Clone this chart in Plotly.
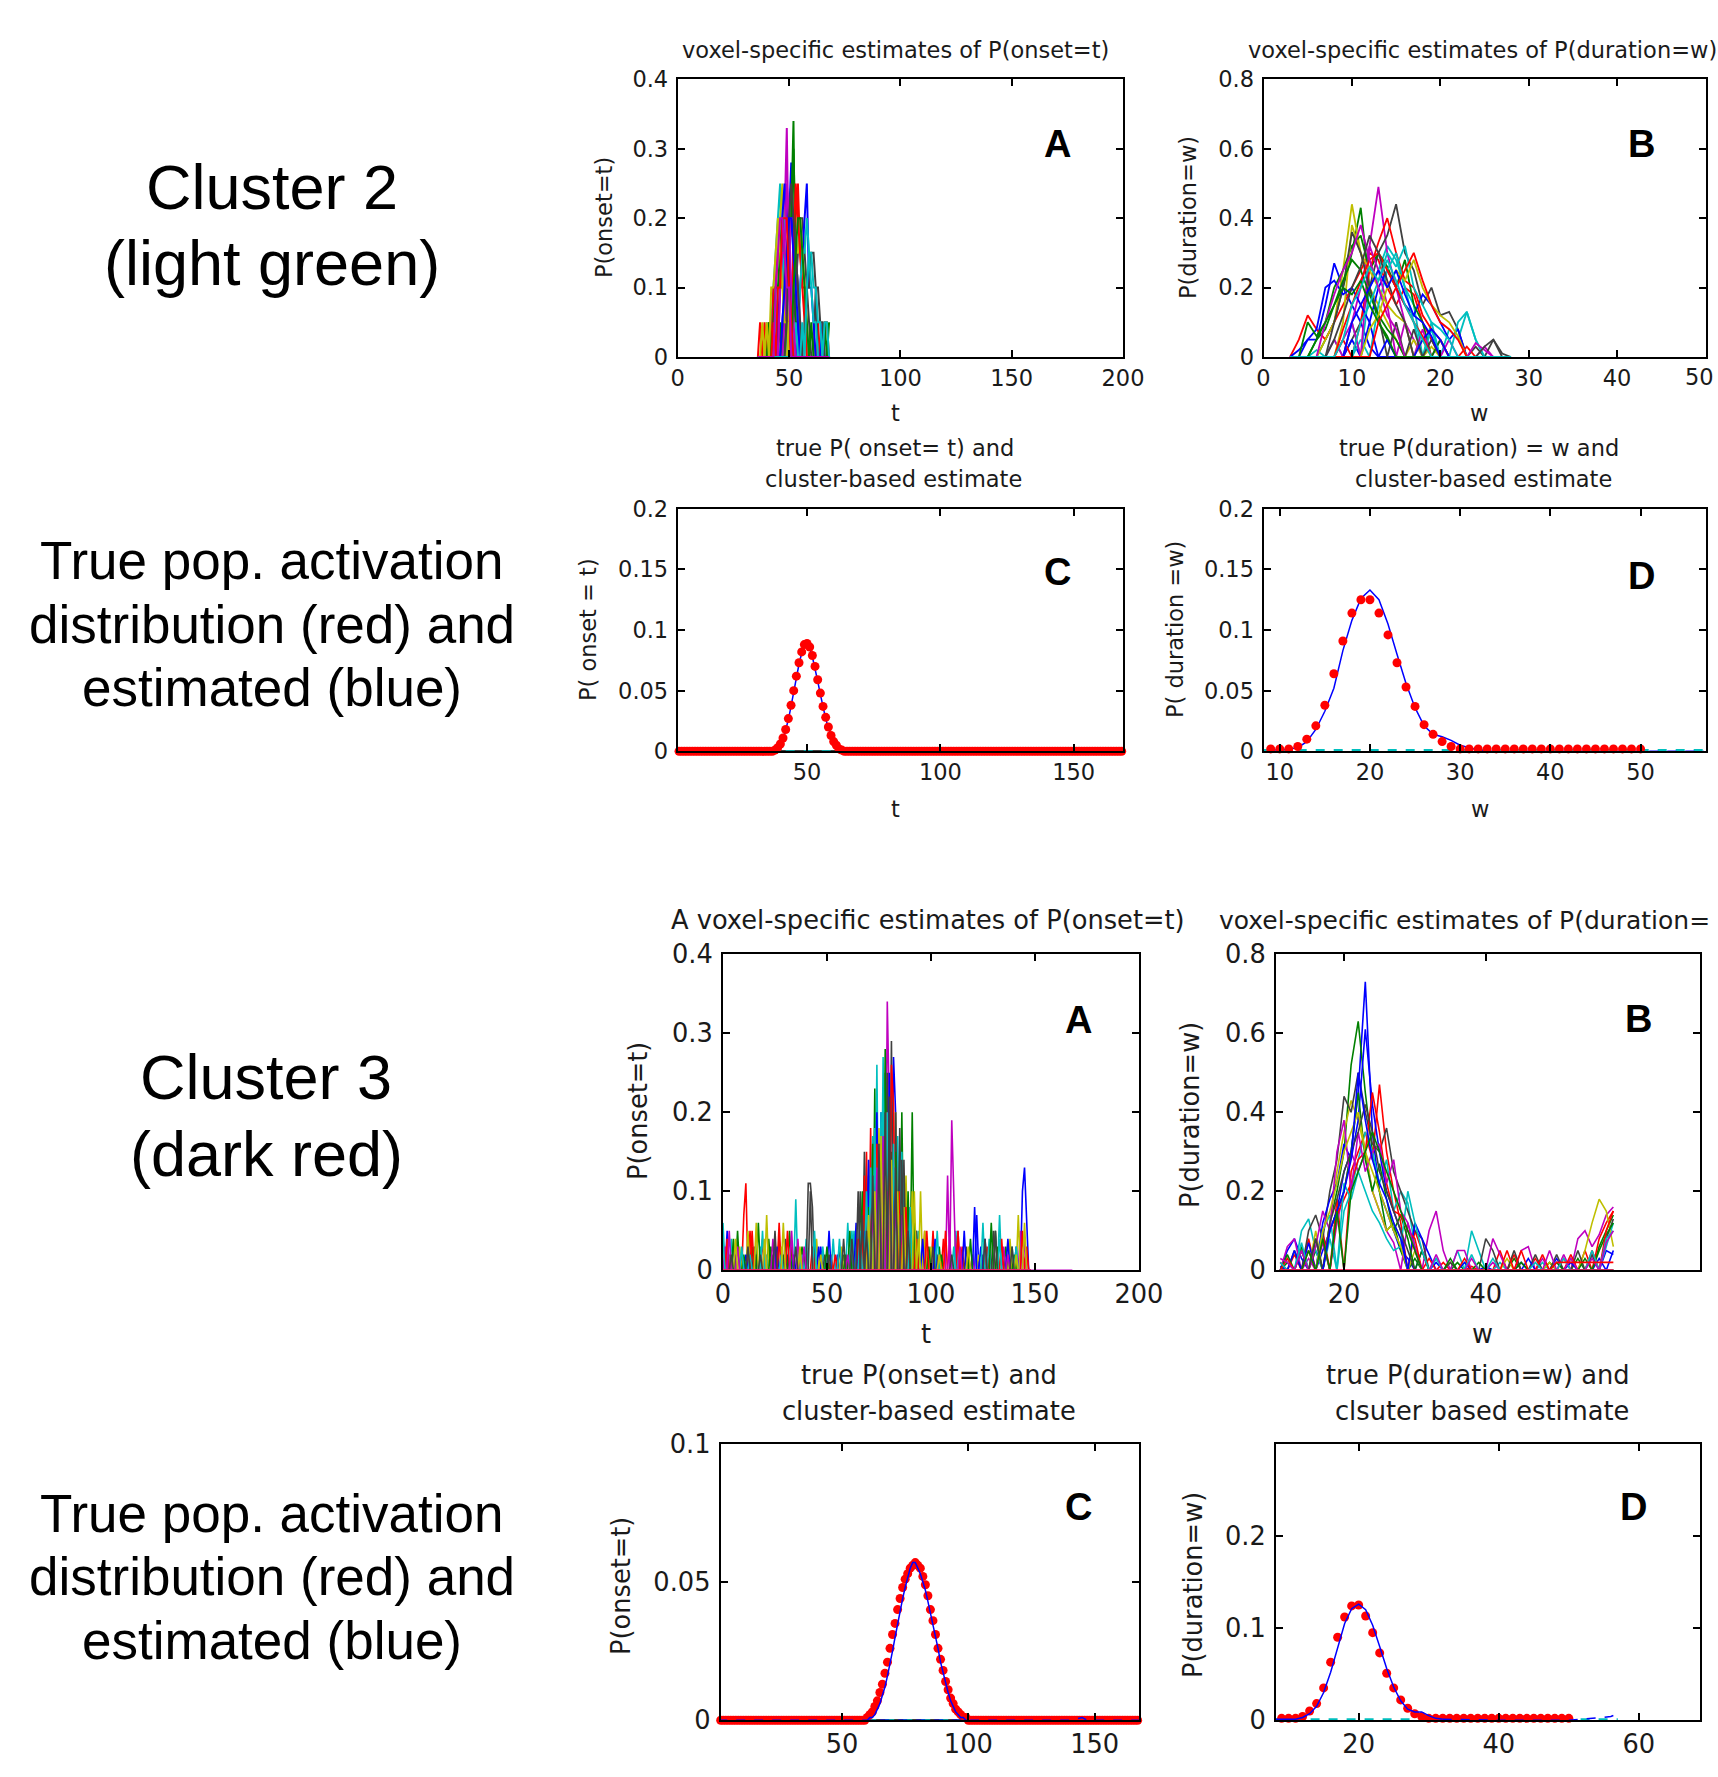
import plotly.graph_objects as go

# ======================= DATA =======================
# MATLAB default line colour order
MCOL = ["#0000ff", "#008000", "#ff0000", "#00bfbf", "#bf00bf", "#bfbf00", "#404040"]

# ---- Cluster 2, panel A: voxel-specific P(onset=t), nonzero points per voxel ----
C2_ONSET_T = list(range(36, 69))
C2_ONSET_VOXELS = [
    {47: .05, 48: .10, 49: .15, 50: .20, 51: .28, 52: .12, 53: .05, 54: .05},
    {46: .05, 48: .10, 49: .10, 50: .15, 51: .20, 52: .34, 53: .05},
    {50: .05, 51: .10, 52: .10, 53: .20, 54: .25, 55: .15, 56: .10, 57: .05, 63: .05, 66: .05, 67: .05},
    {40: .05, 42: .05, 43: .10, 44: .15, 45: .20, 46: .25, 47: .10, 48: .10},
    {44: .05, 46: .10, 47: .15, 48: .20, 49: .33, 50: .10, 51: .05},
    {43: .05, 44: .10, 45: .15, 46: .20, 47: .25, 48: .15, 49: .10},
    {52: .05, 53: .10, 54: .15, 55: .20, 56: .20, 57: .15, 58: .10, 59: .05, 62: .10},
    {54: .05, 55: .10, 56: .15, 57: .20, 58: .25, 59: .10, 60: .10, 61: .05, 65: .05},
    {49: .10, 50: .15, 51: .20, 52: .30, 53: .15, 54: .10, 66: .05, 68: .05},
    {37: .05, 39: .05, 41: .05, 43: .10, 44: .10, 45: .15, 46: .15, 47: .15, 48: .10, 49: .05, 50: .05},
    {44: .05, 45: .10, 46: .10, 47: .10, 48: .20, 49: .20, 50: .15, 51: .10},
    {48: .05, 49: .10, 50: .15, 51: .20, 52: .20, 53: .15, 54: .10, 55: .05},
    {50: .05, 51: .05, 52: .10, 53: .15, 54: .15, 55: .20, 56: .15, 57: .10, 58: .05},
    {55: .05, 57: .05, 58: .10, 59: .10, 60: .15, 61: .15, 62: .10, 63: .10, 64: .05, 65: .05},
    {45: .05, 46: .10, 47: .20, 48: .25, 49: .20, 50: .15, 51: .05},
    {41: .05, 43: .05, 44: .10, 45: .10, 46: .15, 47: .20, 48: .15, 49: .10, 50: .10},
    {51: .05, 52: .15, 53: .25, 54: .20, 55: .15, 56: .10, 57: .10},
    {53: .05, 55: .10, 56: .15, 57: .15, 58: .20, 59: .15, 60: .10, 61: .05, 62: .05},
    {46: .10, 47: .15, 48: .15, 49: .25, 50: .20, 51: .10, 52: .05},
    {38: .05, 40: .05, 42: .10, 43: .10, 44: .15, 45: .20, 46: .15, 47: .10, 48: .05, 49: .05},
    {49: .05, 50: .20, 51: .25, 52: .20, 53: .15, 54: .10, 55: .05},
    {47: .05, 48: .10, 49: .15, 50: .20, 51: .20, 52: .15, 53: .10, 54: .05},
    {52: .10, 53: .15, 54: .20, 55: .20, 56: .15, 57: .10, 58: .05, 60: .05},
    {43: .05, 45: .10, 46: .10, 47: .20, 48: .20, 49: .20, 50: .10, 51: .05},
    {56: .05, 58: .10, 59: .15, 60: .15, 61: .10, 62: .10, 63: .05, 64: .05, 66: .05, 67: .05},
    {44: .10, 45: .15, 46: .20, 47: .20, 48: .15, 49: .10, 50: .10},
]

# ---- Cluster 2, panel B: voxel-specific P(duration=w) ----
C2_DUR_W = list(range(3, 29))
C2_DUR_VOXELS = [
    {5: .05, 6: .05, 7: .15, 8: .27, 9: .20, 10: .15, 11: .10, 12: .03},
    {7: .05, 8: .10, 9: .20, 10: .30, 11: .43, 12: .20, 13: .10, 14: .05},
    {4: .05, 5: .12, 6: .08, 7: .05, 8: .10, 9: .15, 10: .20, 11: .25, 12: .30, 13: .28, 14: .20, 15: .15, 16: .20, 17: .18, 18: .10, 19: .05},
    {6: .02, 8: .05, 10: .10, 12: .20, 13: .25, 14: .32, 15: .28, 16: .20, 17: .15, 19: .10, 21: .08, 22: .05, 23: .13, 24: .05},
    {9: .05, 10: .10, 11: .20, 12: .32, 13: .49, 14: .30, 15: .20, 16: .10, 17: .05, 20: .05, 25: .03},
    {7: .05, 8: .10, 9: .25, 10: .44, 11: .30, 12: .20, 13: .15, 14: .10, 15: .05, 17: .05, 19: .03},
    {10: .05, 11: .10, 12: .20, 13: .30, 14: .35, 15: .44, 16: .30, 17: .25, 18: .15, 19: .20, 20: .12, 21: .13, 22: .08, 24: .03, 26: .05},
    {10: .05, 12: .10, 13: .20, 14: .25, 15: .20, 16: .15, 17: .12, 18: .18, 19: .15, 20: .10, 21: .05, 22: .08},
    {6: .05, 7: .10, 8: .20, 9: .25, 10: .32, 11: .35, 12: .25, 13: .30, 14: .26, 15: .20, 16: .28, 17: .15, 18: .10, 20: .05},
    {9: .05, 11: .10, 12: .25, 13: .33, 14: .40, 15: .30, 16: .22, 17: .20, 18: .12, 19: .08, 20: .05, 23: .03},
    {11: .05, 13: .15, 14: .25, 15: .30, 16: .20, 17: .10, 19: .08, 22: .10, 23: .13, 24: .05},
    {8: .05, 10: .10, 12: .32, 13: .25, 14: .15, 16: .10, 18: .08, 21: .05, 24: .04, 25: .02},
    {9: .10, 10: .38, 11: .30, 12: .25, 13: .20, 14: .15, 15: .12, 16: .10, 18: .05},
    {8: .10, 9: .20, 10: .36, 11: .30, 12: .20, 13: .12, 15: .10, 17: .08, 19: .05, 25: .03, 26: .05, 27: .01},
    {4: .02, 5: .05, 6: .08, 7: .20, 8: .22, 9: .18, 10: .20, 11: .15, 12: .10, 14: .05, 18: .05, 19: .08, 20: .05},
    {6: .05, 7: .08, 8: .15, 9: .22, 10: .28, 11: .25, 12: .18, 13: .12, 14: .08, 15: .05},
    {9: .08, 10: .15, 11: .22, 12: .28, 13: .30, 14: .25, 15: .20, 16: .15, 17: .10, 18: .06},
    {11: .10, 12: .15, 13: .22, 14: .30, 15: .26, 16: .32, 17: .20, 18: .15, 19: .10, 20: .08, 21: .05},
    {7: .10, 8: .18, 9: .25, 10: .30, 11: .38, 12: .28, 13: .20, 14: .12, 15: .08},
    {12: .08, 13: .12, 14: .20, 15: .25, 16: .22, 17: .28, 18: .20, 19: .15, 20: .12, 21: .10, 22: .06},
    {8: .05, 9: .12, 10: .20, 11: .26, 12: .35, 13: .30, 14: .22, 15: .15, 16: .10},
    {10: .10, 11: .15, 12: .20, 13: .25, 14: .20, 15: .25, 16: .18, 17: .12, 18: .10, 19: .06},
    {5: .10, 6: .06, 7: .10, 8: .15, 9: .20, 10: .18, 11: .22, 12: .15, 13: .10, 14: .06},
    {13: .10, 14: .15, 15: .20, 16: .25, 17: .30, 18: .22, 19: .15, 20: .10, 21: .08, 22: .05},
    {9: .05, 10: .15, 11: .20, 12: .26, 13: .22, 14: .28, 15: .22, 16: .15, 17: .10, 18: .05},
]

# ---- Cluster 2, panel C: true P(onset=t) (red dots) and cluster estimate (blue) ----
C2_ONSET_FULL_T = list(range(1, 170))
C2_ONSET_BUMP_T = list(range(38, 64))
C2_ONSET_TRUE = [.001, .003, .006, .011, .018, .027, .038, .050, .062, .073, .082, .088, .089,
                 .086, .079, .070, .059, .048, .037, .028, .020, .013, .008, .005, .002, .001]
C2_ONSET_EST = [.000, .002, .005, .010, .017, .026, .037, .049, .061, .072, .081, .087, .088,
                .085, .078, .069, .058, .047, .036, .027, .019, .012, .007, .004, .001, .000]
C2_ONSET_ZERO_T = [42, 62]
C2_ONSET_ZERO_P = [0, 0]

# ---- Cluster 2, panel D: true P(duration=w) and estimate ----
C2_DUR_TRUE_W = list(range(9, 51))
C2_DUR_TRUE = [.002, .002, .002, .004, .010, .021, .038, .064, .091, .114, .125, .125, .114, .096,
               .073, .053, .037, .022, .014, .008, .004, .002, .002, .002, .002, .002, .002, .002,
               .002, .002, .002, .002, .002, .002, .002, .002, .002, .002, .002, .002, .002, .002]
C2_DUR_EST_W = list(range(9, 34))
C2_DUR_EST = [.001, .001, .002, .003, .008, .018, .033, .052, .083, .108, .126, .133, .125, .105,
              .080, .056, .036, .021, .014, .012, .009, .005, .003, .001, .000]
C2_DUR_TAIL_W = [33, 45, 57]
C2_DUR_TAIL = [0.0, 0.0, 0.0]
C2_DUR_ZERO_W = [8, 58]
C2_DUR_ZERO_P = [0.001, 0.001]

# ---- Cluster 3, panel A: voxel-specific P(onset=t) ----
C3_ONSET_T = list(range(0, 149))
C3_ONSET_T_LONG = list(range(0, 169))
C3_ONSET_VOXELS = [
    {2: .05, 5: .03, 16: .02, 25: .03, 31: .02, 47: .03, 55: .02, 70: .05, 72: .10, 74: .15, 76: .20, 78: .15, 80: .22, 82: .27, 83: .20, 85: .15, 87: .10, 89: .08, 92: .05, 122: .07, 126: .04, 141: .03, 144: .10, 145: .13, 146: .06},
    {7: .05, 9: .02, 14: .03, 22: .04, 29: .02, 38: .03, 44: .04, 58: .02, 68: .08, 71: .12, 73: .23, 75: .15, 77: .10, 79: .20, 81: .15, 84: .12, 86: .20, 88: .10, 91: .20, 93: .05, 104: .03, 118: .02, 131: .05, 136: .03},
    {3: .02, 10: .07, 11: .11, 13: .05, 19: .04, 27: .06, 33: .03, 52: .02, 67: .05, 69: .15, 71: .18, 73: .12, 76: .10, 78: .25, 80: .20, 82: .15, 84: .10, 86: .08, 90: .05, 97: .05, 101: .05, 106: .04, 115: .03, 127: .03},
    {0: .06, 4: .04, 18: .03, 21: .02, 35: .09, 40: .04, 48: .03, 53: .04, 60: .06, 63: .05, 65: .03, 70: .10, 72: .17, 74: .26, 76: .20, 79: .12, 81: .10, 84: .17, 87: .10, 94: .05, 112: .05, 128: .04, 133: .07, 139: .03},
    {1: .03, 6: .02, 20: .03, 36: .04, 62: .02, 71: .05, 73: .10, 75: .15, 77: .22, 79: .34, 80: .20, 82: .15, 84: .10, 86: .12, 89: .05, 108: .12, 110: .19, 111: .10, 113: .05, 120: .02, 135: .03, 143: .05, 146: .02},
    {8: .03, 12: .05, 21: .07, 28: .03, 37: .02, 45: .04, 57: .03, 69: .05, 72: .12, 75: .18, 77: .13, 80: .15, 83: .20, 85: .10, 88: .12, 91: .10, 95: .10, 97: .05, 100: .03, 123: .02, 138: .04, 142: .07},
    {15: .03, 24: .02, 30: .04, 41: .11, 42: .11, 43: .08, 49: .02, 56: .03, 66: .10, 68: .15, 70: .12, 73: .18, 75: .10, 77: .20, 79: .25, 81: .29, 83: .20, 85: .18, 87: .14, 90: .08, 93: .05, 103: .02, 117: .03, 125: .02, 130: .05},
    {11: .02, 26: .03, 34: .02, 46: .03, 51: .05, 64: .06, 68: .05, 70: .14, 72: .08, 74: .20, 76: .16, 78: .13, 80: .25, 82: .10, 85: .08, 88: .06, 96: .04, 102: .04, 116: .05, 121: .08, 124: .03, 137: .04},
    {5: .04, 10: .02, 17: .06, 23: .03, 32: .05, 39: .02, 50: .03, 59: .02, 61: .05, 67: .10, 70: .08, 72: .16, 74: .10, 76: .14, 78: .28, 80: .18, 83: .15, 86: .10, 89: .10, 92: .06, 99: .03, 105: .02, 119: .04, 129: .06, 132: .03, 140: .02},
    {2: .04, 14: .05, 27: .04, 31: .05, 43: .03, 54: .02, 65: .04, 68: .12, 71: .10, 74: .16, 76: .12, 79: .20, 81: .26, 82: .21, 85: .10, 88: .08, 93: .04, 98: .05, 107: .05, 113: .05, 134: .04, 144: .05, 146: .03},
    {0: .04, 9: .03, 13: .02, 19: .05, 28: .02, 38: .02, 44: .05, 56: .04, 62: .05, 66: .05, 69: .10, 71: .13, 73: .18, 75: .12, 77: .27, 79: .20, 82: .16, 86: .15, 90: .08, 103: .05, 111: .03, 125: .06, 133: .04, 141: .03},
    {3: .05, 7: .03, 24: .04, 33: .05, 39: .03, 60: .02, 72: .08, 74: .13, 77: .17, 79: .10, 81: .12, 83: .10, 86: .07, 109: .04, 114: .03, 137: .02, 145: .04},
    {6: .04, 16: .06, 20: .04, 29: .06, 37: .03, 47: .02, 70: .07, 73: .10, 76: .17, 78: .12, 81: .14, 84: .10, 87: .08, 92: .10, 94: .04, 104: .02, 118: .03, 141: .02, 145: .06},
    {4: .02, 12: .03, 18: .02, 25: .05, 35: .03, 42: .10, 51: .02, 58: .04, 62: .04, 65: .10, 67: .07, 69: .05, 72: .12, 75: .16, 78: .20, 80: .22, 83: .13, 86: .14, 89: .05, 101: .03, 110: .02, 126: .04, 131: .05, 139: .03},
]

# ---- Cluster 3, panel B: voxel-specific P(duration=w) ----
C3_DUR_W = list(range(11, 59))
C3_DUR_VOXELS = [
    {12: .05, 13: .08, 14: .03, 17: .05, 18: .10, 19: .15, 20: .25, 21: .30, 22: .45, 23: .73, 24: .35, 25: .20, 26: .15, 27: .10, 28: .05, 29: .03, 31: .05, 33: .02, 40: .01, 45: .02, 50: .03, 55: .04, 57: .05, 58: .04},
    {12: .02, 14: .06, 16: .05, 18: .12, 19: .20, 20: .30, 21: .52, 22: .63, 23: .45, 24: .30, 25: .20, 26: .10, 27: .12, 28: .05, 30: .03, 36: .02, 44: .03, 49: .02, 53: .03, 56: .06, 57: .10, 58: .14},
    {11: .02, 13: .04, 15: .08, 17: .10, 19: .18, 21: .25, 22: .30, 23: .35, 24: .28, 25: .47, 26: .30, 27: .20, 28: .12, 30: .10, 31: .05, 34: .02, 38: .01, 42: .05, 44: .04, 47: .03, 51: .03, 54: .05, 56: .08, 57: .12, 58: .15},
    {12: .03, 14: .10, 15: .13, 16: .05, 18: .08, 20: .15, 21: .20, 22: .28, 23: .35, 24: .30, 25: .22, 26: .28, 27: .15, 28: .20, 29: .17, 30: .06, 33: .03, 36: .05, 38: .10, 39: .05, 42: .02, 48: .02, 52: .03, 55: .04, 57: .06, 58: .12},
    {12: .06, 13: .08, 15: .03, 17: .07, 19: .12, 20: .20, 21: .30, 22: .25, 23: .30, 24: .20, 25: .15, 26: .10, 27: .07, 29: .12, 30: .06, 32: .10, 33: .15, 34: .05, 36: .05, 37: .05, 41: .02, 45: .05, 46: .06, 48: .03, 51: .04, 53: .08, 54: .10, 55: .06, 56: .09, 57: .14, 58: .16},
    {14: .05, 16: .10, 18: .12, 19: .25, 20: .35, 21: .43, 22: .38, 23: .30, 24: .20, 25: .15, 26: .10, 27: .12, 28: .08, 30: .05, 35: .02, 43: .03, 49: .02, 52: .03, 54: .05, 55: .12, 56: .18, 57: .15, 58: .06},
    {13: .05, 15: .10, 16: .14, 17: .08, 18: .20, 19: .28, 20: .44, 21: .40, 22: .50, 23: .40, 24: .32, 25: .30, 26: .36, 27: .25, 28: .20, 29: .15, 30: .10, 31: .08, 35: .02, 40: .08, 41: .05, 44: .05, 47: .04, 50: .04, 53: .05, 55: .04, 57: .08, 58: .13},
    {11: .01, 13: .05, 15: .07, 17: .12, 18: .18, 19: .22, 20: .32, 21: .28, 22: .38, 23: .61, 24: .42, 25: .30, 26: .20, 27: .15, 28: .10, 30: .12, 31: .08, 32: .04, 37: .02, 46: .03, 52: .02, 56: .03, 58: .05},
    {12: .04, 14: .05, 16: .08, 18: .10, 19: .15, 20: .20, 21: .30, 22: .45, 23: .28, 24: .20, 25: .27, 26: .18, 27: .10, 28: .14, 29: .08, 31: .05, 35: .03, 39: .02, 45: .02, 50: .02, 54: .03, 56: .05, 57: .09, 58: .12},
    {12: .03, 15: .05, 17: .08, 19: .14, 20: .18, 21: .22, 22: .28, 23: .30, 24: .45, 25: .35, 26: .22, 27: .15, 28: .14, 29: .10, 30: .08, 32: .03, 37: .03, 43: .05, 45: .05, 48: .04, 52: .04, 55: .05, 57: .10, 58: .15},
    {11: .02, 14: .07, 17: .10, 18: .14, 20: .22, 21: .18, 22: .25, 23: .20, 24: .15, 25: .12, 26: .08, 27: .05, 28: .06, 29: .20, 30: .12, 31: .05, 33: .03, 38: .04, 41: .03, 47: .02, 51: .03, 55: .05, 57: .08, 58: .10},
    {11: .03, 12: .02, 14: .05, 16: .06, 17: .15, 18: .10, 19: .30, 20: .38, 21: .20, 22: .35, 23: .25, 24: .30, 25: .32, 26: .22, 27: .28, 28: .15, 29: .12, 30: .05, 33: .04, 38: .03, 41: .08, 42: .04, 49: .05, 52: .03, 55: .03, 57: .07, 58: .10},
    {17: .10, 18: .15, 19: .22, 20: .30, 21: .35, 22: .40, 23: .30, 24: .25, 25: .20, 26: .15, 27: .10, 28: .06},
    {16: .08, 18: .12, 19: .18, 20: .25, 21: .30, 22: .35, 23: .42, 24: .35, 25: .25, 26: .20, 27: .15, 28: .10, 29: .05},
    {18: .10, 19: .15, 20: .20, 21: .28, 22: .50, 23: .38, 24: .28, 25: .22, 26: .18, 27: .12, 28: .08},
    {15: .05, 17: .08, 19: .15, 21: .20, 22: .25, 23: .30, 24: .35, 25: .30, 26: .25, 27: .20, 28: .15, 29: .10, 30: .05},
    {50: .02, 51: .02, 52: .02, 53: .02, 54: .02, 55: .02, 56: .02, 57: .02, 58: .02},
]

# ---- Cluster 3, panel C: true P(onset=t) and estimate ----
C3_ONSET_FULL_T = list(range(1, 169))
C3_ONSET_BUMP_T = list(range(60, 101))
C3_ONSET_TRUE = [.001, .002, .003, .005, .007, .010, .013, .017, .021, .026, .031, .035, .040, .044,
                 .048, .051, .053, .055, .056, .057, .056, .055, .052, .049, .045, .040, .036, .031,
                 .026, .022, .018, .014, .011, .008, .006, .004, .003, .002, .001, .001, .000]
C3_ONSET_EST = [.000, .001, .001, .002, .004, .006, .009, .012, .016, .020, .025, .030, .035, .040,
                .044, .048, .052, .055, .057, .057, .055, .053, .050, .047, .043, .039, .035, .030,
                .026, .021, .017, .013, .010, .007, .005, .003, .002, .001, .001, .000, .000]
C3_ONSET_TAIL_T = [100, 140, 143, 145, 147, 150, 168]
C3_ONSET_TAIL = [0.0, 0.0, 0.0005, 0.001, 0.0, 0.0, 0.0]
C3_ONSET_ZERO_T = [60, 100]
C3_ONSET_ZERO_P = [0, 0]

# ---- Cluster 3, panel D: true P(duration=w) and estimate ----
C3_DUR_TRUE_W = list(range(8, 51))
C3_DUR_TRUE = [.002, .002, .002, .002, .004, .010, .018, .035, .063, .090, .112, .124, .125, .113,
               .095, .073, .051, .035, .022, .013, .007, .004, .002, .002, .002, .002, .002, .002,
               .002, .002, .002, .002, .002, .002, .002, .002, .002, .002, .002, .002, .002, .002, .002]
C3_DUR_EST_W = list(range(8, 33))
C3_DUR_EST = [.001, .001, .001, .001, .003, .007, .015, .030, .052, .080, .105, .121, .126, .120,
              .103, .080, .056, .036, .021, .012, .009, .009, .005, .002, .001]
C3_DUR_TAIL_W = [32, 40, 50, 52, 54, 55, 56, 57]
C3_DUR_TAIL = [.001, .000, .000, .001, .002, .003, .004, .007]
C3_DUR_ZERO_W = [8, 57]
C3_DUR_ZERO_P = [0.001, 0.001]

# ======================= FIGURE =======================
W, H = 1718, 1777
AX_FONT = "DejaVu Sans"
TXT = "#1a1a1a"


def dense(grid, d):
    return [d.get(v, 0.0) for v in grid]


# panel boxes in pixels: (left, top, right, bottom)
PANELS = [
    dict(box=(677.7, 79.3, 1123.0, 357.0), xr=[0, 200], xt=[0, 50, 100, 150, 200],
         yr=[0, 0.4], yt=[0, .1, .2, .3, .4], ytt=["0", "0.1", "0.2", "0.3", "0.4"], fs=22.5),
    dict(box=(1263.5, 79.3, 1705.5, 357.0), xr=[0, 50], xt=[0, 10, 20, 30, 40, 50],
         yr=[0, 0.8], yt=[0, .2, .4, .6, .8], ytt=["0", "0.2", "0.4", "0.6", "0.8"], fs=22.5),
    dict(box=(677.7, 508.8, 1123.0, 751.3), xr=[1.5, 168.5], xt=[50, 100, 150],
         yr=[0, 0.2], yt=[0, .05, .1, .15, .2], ytt=["0", "0.05", "0.1", "0.15", "0.2"], fs=22.5),
    dict(box=(1263.5, 508.8, 1705.5, 751.3), xr=[8.2, 57.2], xt=[10, 20, 30, 40, 50],
         yr=[0, 0.2], yt=[0, .05, .1, .15, .2], ytt=["0", "0.05", "0.1", "0.15", "0.2"], fs=22.5),
    dict(box=(723.0, 954.2, 1138.9, 1270.3), xr=[0, 200], xt=[0, 50, 100, 150, 200],
         yr=[0, 0.4], yt=[0, .1, .2, .3, .4], ytt=["0", "0.1", "0.2", "0.3", "0.4"], fs=25.7),
    dict(box=(1276.0, 954.2, 1699.8, 1270.3), xr=[10.4, 70.2], xt=[20, 40],
         yr=[0, 0.8], yt=[0, .2, .4, .6, .8], ytt=["0", "0.2", "0.4", "0.6", "0.8"], fs=25.7),
    dict(box=(720.7, 1443.7, 1138.9, 1720.2), xr=[2, 167.5], xt=[50, 100, 150],
         yr=[0, 0.1], yt=[0, .05, .1], ytt=["0", "0.05", "0.1"], fs=25.7),
    dict(box=(1276.0, 1443.7, 1699.8, 1720.2), xr=[8.2, 68.7], xt=[20, 40, 60],
         yr=[0, 0.3], yt=[0, .1, .2], ytt=["0", "0.1", "0.2"], fs=25.7),
]

fig = go.Figure()
layout = dict(width=W, height=H, margin=dict(l=0, r=0, t=0, b=0, pad=0, autoexpand=False),
              autosize=False, paper_bgcolor="white", plot_bgcolor="white", showlegend=False)

for i, p in enumerate(PANELS):
    l, t, r, b = p["box"]
    sfx = "" if i == 0 else str(i + 1)
    common = dict(showgrid=False, zeroline=False, showline=True, linecolor="black", linewidth=2,
                  mirror="ticks", ticks="inside", ticklen=7, tickwidth=1.5, tickcolor="black",
                  tickfont=dict(family=AX_FONT, size=p["fs"], color=TXT), fixedrange=True,
                  automargin=False)
    layout["xaxis" + sfx] = dict(domain=[l / W, r / W], range=p["xr"], tickmode="array",
                                 tickvals=p["xt"], ticktext=[str(v) for v in p["xt"]],
                                 anchor="y" + sfx, ticklabelstandoff=0, **common)
    layout["yaxis" + sfx] = dict(domain=[1 - b / H, 1 - t / H], range=p["yr"], tickmode="array",
                                 tickvals=p["yt"], ticktext=p["ytt"], anchor="x" + sfx,
                                 ticklabelstandoff=3, **common)


def ax(i):
    return dict(xaxis="x" if i == 0 else "x%d" % (i + 1), yaxis="y" if i == 0 else "y%d" % (i + 1))


def voxel_lines(i, grid, voxels, width=1.5):
    for k, d in enumerate(voxels):
        fig.add_trace(go.Scatter(x=grid, y=dense(grid, d), mode="lines",
                                 line=dict(color=MCOL[k % 7], width=width), hoverinfo="skip", **ax(i)))


# Panel A / B cluster 2
voxel_lines(0, C2_ONSET_T, C2_ONSET_VOXELS, 2)
voxel_lines(1, C2_DUR_W, C2_DUR_VOXELS, 1.8)

# Panel C cluster 2
onset2_true = dict(zip(C2_ONSET_BUMP_T, C2_ONSET_TRUE))
onset2_est = dict(zip(C2_ONSET_BUMP_T, C2_ONSET_EST))
fig.add_trace(go.Scatter(x=[40, 62], y=[0, 0], mode="lines", line=dict(color="black", width=2), **ax(2)))
fig.add_trace(go.Scatter(x=C2_ONSET_FULL_T, y=dense(C2_ONSET_FULL_T, onset2_est), mode="lines",
                         line=dict(color="#0000ff", width=1.5), **ax(2)))
fig.add_trace(go.Scatter(x=C2_ONSET_ZERO_T, y=C2_ONSET_ZERO_P, mode="lines",
                         line=dict(color="#00bfbf", width=2, dash="dash"), **ax(2)))
fig.add_trace(go.Scatter(x=C2_ONSET_FULL_T, y=dense(C2_ONSET_FULL_T, onset2_true), mode="markers",
                         marker=dict(color="#ff0000", size=9), cliponaxis=False, **ax(2)))

# Panel D cluster 2
fig.add_trace(go.Scatter(x=C2_DUR_ZERO_W, y=C2_DUR_ZERO_P, mode="lines",
                         line=dict(color="#00bfbf", width=2, dash="dash"), **ax(3)))
fig.add_trace(go.Scatter(x=C2_DUR_EST_W, y=C2_DUR_EST, mode="lines",
                         line=dict(color="#0000ff", width=1.5), **ax(3)))
fig.add_trace(go.Scatter(x=C2_DUR_TAIL_W, y=C2_DUR_TAIL, mode="lines",
                         line=dict(color="#0000ff", width=1.5, dash="dash"), **ax(3)))
fig.add_trace(go.Scatter(x=C2_DUR_TRUE_W, y=C2_DUR_TRUE, mode="markers",
                         marker=dict(color="#ff0000", size=9), cliponaxis=False, **ax(3)))

# Panel A / B cluster 3
voxel_lines(4, C3_ONSET_T, C3_ONSET_VOXELS, 1.6)
fig.add_trace(go.Scatter(x=C3_ONSET_T_LONG, y=dense(C3_ONSET_T_LONG, {}), mode="lines",
                         line=dict(color="#bf00bf", width=1.5), **ax(4)))
fig.add_trace(go.Scatter(x=C3_ONSET_T, y=dense(C3_ONSET_T, {}), mode="lines",
                         line=dict(color="#ff2060", width=2), **ax(4)))
voxel_lines(5, C3_DUR_W, C3_DUR_VOXELS, 1.6)
fig.add_trace(go.Scatter(x=C3_DUR_W, y=dense(C3_DUR_W, {}), mode="lines",
                         line=dict(color="#ff2060", width=2), **ax(5)))

# Panel C cluster 3
onset3_true = dict(zip(C3_ONSET_BUMP_T, C3_ONSET_TRUE))
fig.add_trace(go.Scatter(x=C3_ONSET_ZERO_T, y=C3_ONSET_ZERO_P, mode="lines",
                         line=dict(color="black", width=2), **ax(6)))
fig.add_trace(go.Scatter(x=C3_ONSET_ZERO_T, y=C3_ONSET_ZERO_P, mode="lines",
                         line=dict(color="#00bfbf", width=2, dash="dash"), **ax(6)))
fig.add_trace(go.Scatter(x=C3_ONSET_FULL_T, y=dense(C3_ONSET_FULL_T, onset3_true), mode="markers",
                         marker=dict(color="#ff0000", size=9), cliponaxis=False, **ax(6)))
fig.add_trace(go.Scatter(x=C3_ONSET_BUMP_T, y=C3_ONSET_EST, mode="lines",
                         line=dict(color="#0000ff", width=1.5), **ax(6)))
fig.add_trace(go.Scatter(x=[1] + C3_ONSET_TAIL_T, y=[0.0] + C3_ONSET_TAIL, mode="lines",
                         line=dict(color="#0000ff", width=1.5, dash="dash"), **ax(6)))

# Panel D cluster 3
fig.add_trace(go.Scatter(x=C3_DUR_ZERO_W, y=C3_DUR_ZERO_P, mode="lines",
                         line=dict(color="#00bfbf", width=2, dash="dash"), **ax(7)))
fig.add_trace(go.Scatter(x=C3_DUR_TRUE_W, y=C3_DUR_TRUE, mode="markers",
                         marker=dict(color="#ff0000", size=9), cliponaxis=False, **ax(7)))
fig.add_trace(go.Scatter(x=C3_DUR_EST_W, y=C3_DUR_EST, mode="lines",
                         line=dict(color="#0000ff", width=1.5), **ax(7)))
fig.add_trace(go.Scatter(x=C3_DUR_TAIL_W, y=C3_DUR_TAIL, mode="lines",
                         line=dict(color="#0000ff", width=1.5, dash="dash"), **ax(7)))

# ---------------- text ----------------
ann = []


def text(x, y, s, size, family=AX_FONT, angle=0, xanchor="center", bold=False, color=TXT):
    if bold:
        s = "<b>%s</b>" % s
    ann.append(dict(x=x / W, y=1 - y / H, xref="paper", yref="paper", text=s, showarrow=False,
                    xanchor=xanchor, yanchor="middle", textangle=angle,
                    font=dict(family=family, size=size, color=color)))


# left column
LEFT = "Liberation Sans"
text(272, 187, "Cluster 2", 63, LEFT, color="black")
text(272, 263, "(light green)", 63, LEFT, color="black")
text(272, 560, "True pop. activation", 53, LEFT, color="black")
text(272, 624, "distribution (red) and", 53, LEFT, color="black")
text(272, 688, "estimated (blue)", 53, LEFT, color="black")
text(266, 1077, "Cluster 3", 63, LEFT, color="black")
text(266, 1154, "(dark red)", 63, LEFT, color="black")
text(272, 1513, "True pop. activation", 53, LEFT, color="black")
text(272, 1576, "distribution (red) and", 53, LEFT, color="black")
text(272, 1640, "estimated (blue)", 53, LEFT, color="black")

# panel titles
text(896, 50, "voxel-specific estimates of P(onset=t)", 22.5)
text(1482, 50, "voxel-specific estimates of P(duration=w)", 22.5)
text(895, 448, "true P( onset= t) and", 22.5)
text(894, 479, "cluster-based estimate", 22.5)
text(1479, 448, "true P(duration) = w and", 22.5)
text(1483, 479, "cluster-based estimate", 22.5)
text(928, 920, "A voxel-specific estimates of P(onset=t)", 25.7)
# in the source figure this title runs off the right edge after "P(duration="
text(1217, 920, "voxel-specific estimates of P(duration=", 25.0, xanchor="left")
text(929, 1375, "true P(onset=t) and", 25.7)
text(929, 1411, "cluster-based estimate", 25.7)
text(1478, 1375, "true P(duration=w) and", 25.7)
text(1482, 1411, "clsuter based estimate", 25.7)

# last x tick label of panel B (cluster 2) sits at the right page edge
text(1716, 377, "50", 22.5, xanchor="right")

# axis titles
text(604, 218, "P(onset=t)", 22.5, angle=-90)
text(1188, 218, "P(duration=w)", 22.5, angle=-90)
text(896, 413, "t", 22.5)
text(1479, 413, "w", 22.5)
text(588, 630, "P( onset = t)", 22.5, angle=-90)
text(1175, 630, "P( duration =w)", 22.5, angle=-90)
text(896, 809, "t", 22.5)
text(1480, 809, "w", 22.5)
text(638, 1111, "P(onset=t)", 25.7, angle=-90)
text(1190, 1115, "P(duration=w)", 25.7, angle=-90)
text(926, 1334, "t", 25.7)
text(1482, 1334, "w", 25.7)
text(621, 1586, "P(onset=t)", 25.7, angle=-90)
text(1193, 1585, "P(duration=w)", 25.7, angle=-90)

# panel letters
LET = "Liberation Sans"
for (x, y, s) in [(1057, 144, "A"), (1641, 144, "B"), (1057, 572, "C"), (1641, 576, "D"),
                  (1078, 1020, "A"), (1638, 1019, "B"), (1078, 1507, "C"), (1633, 1507, "D")]:
    text(x, y, s, 38, LET, bold=True, color="black")

layout["annotations"] = ann
fig.update_layout(**layout)
fig.write_html("out.html", config={"displayModeBar": False, "responsive": False},
               post_script="document.body.style.margin='0px';document.body.style.overflow='hidden';")
